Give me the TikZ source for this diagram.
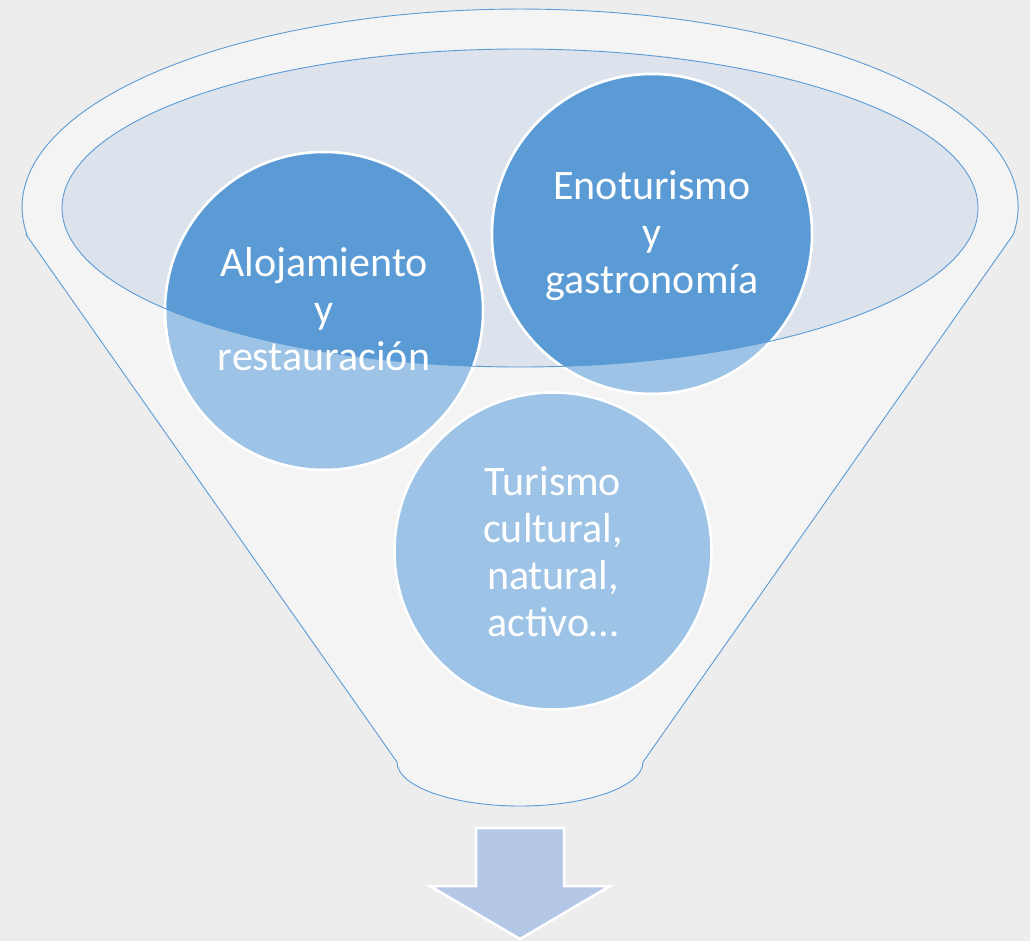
\documentclass[tikz,border=0pt]{standalone}
\usepackage{fontspec}
\setmainfont{Carlito}
\definecolor{bgc}{HTML}{EDEDED}
\definecolor{funnelc}{HTML}{F4F4F4}
\definecolor{linec}{HTML}{5B9BD5}
\definecolor{innerc}{HTML}{DCE3ED}
\definecolor{lightc}{HTML}{9DC3E6}
\definecolor{darkc}{HTML}{5B9BD5}
\definecolor{arrowc}{HTML}{B4C7E7}
\tikzset{
  funnelsty/.style={fill=funnelc, draw=linec, line width=0.9pt},
  innersty/.style={fill=innerc},
  circsty/.style={circle, fill=lightc, draw=white, line width=2.5pt, inner sep=0pt, minimum size=#1},
  bordersty/.style={draw=white, line width=2.5pt},
  txtsty/.style={text=white, align=center, font=\fontsize{42}{47}\selectfont, inner sep=0pt},
  arrowsty/.style={fill=arrowc, draw=white, line width=2.5pt, line join=miter}
}
\begin{document}
\begin{tikzpicture}[x=1pt, y=-1pt]
\useasboundingbox (0,0) rectangle (1030,941);
\fill[bgc] (0,0) rectangle (1030,941);
% funnel
\draw[funnelsty] (27.7,236.9) -- (397,762)
  arc[start angle=180, end angle=0, x radius=123, y radius=44]
  -- (1013.2,234.6)
  arc[start angle=8, end angle=-188.7, x radius=498, y radius=198] -- cycle;
% inner ellipse fill
\fill[innersty] (520,208) ellipse[x radius=458, y radius=159];
% circles
\node[circsty=318pt] (alo) at (324,311) {};
\node[circsty=320pt] (eno) at (652,234) {};
\node[circsty=317pt] (tur) at (553,551) {};
% darker part inside the ellipse
\begin{scope}
  \clip (520,208) ellipse[x radius=458, y radius=159];
  \fill[darkc] (alo.center) circle[radius=159];
  \fill[darkc] (eno.center) circle[radius=160];
\end{scope}
\draw[bordersty] (alo.center) circle[radius=159];
\draw[bordersty] (eno.center) circle[radius=160];
% ellipse outline
\draw[linec, line width=0.9pt] (520,208) ellipse[x radius=458, y radius=159];
% texts
\node[txtsty] (alotxt) at ([yshift=2pt]alo.center) {Alojamiento\\y\\restauración};
\node[txtsty] (enotxt) at ([yshift=-2pt]eno.center) {Enoturismo\\y\\gastronomía};
\node[txtsty] (turtxt) at ([yshift=-1pt]tur.center) {Turismo\\cultural,\\natural,\\activo…};
% arrow
\draw[arrowsty] (476,828) -- (564,828) -- (564,886) -- (610,886) -- (520,939) -- (430,886) -- (476,886) -- cycle;
\end{tikzpicture}
\end{document}
